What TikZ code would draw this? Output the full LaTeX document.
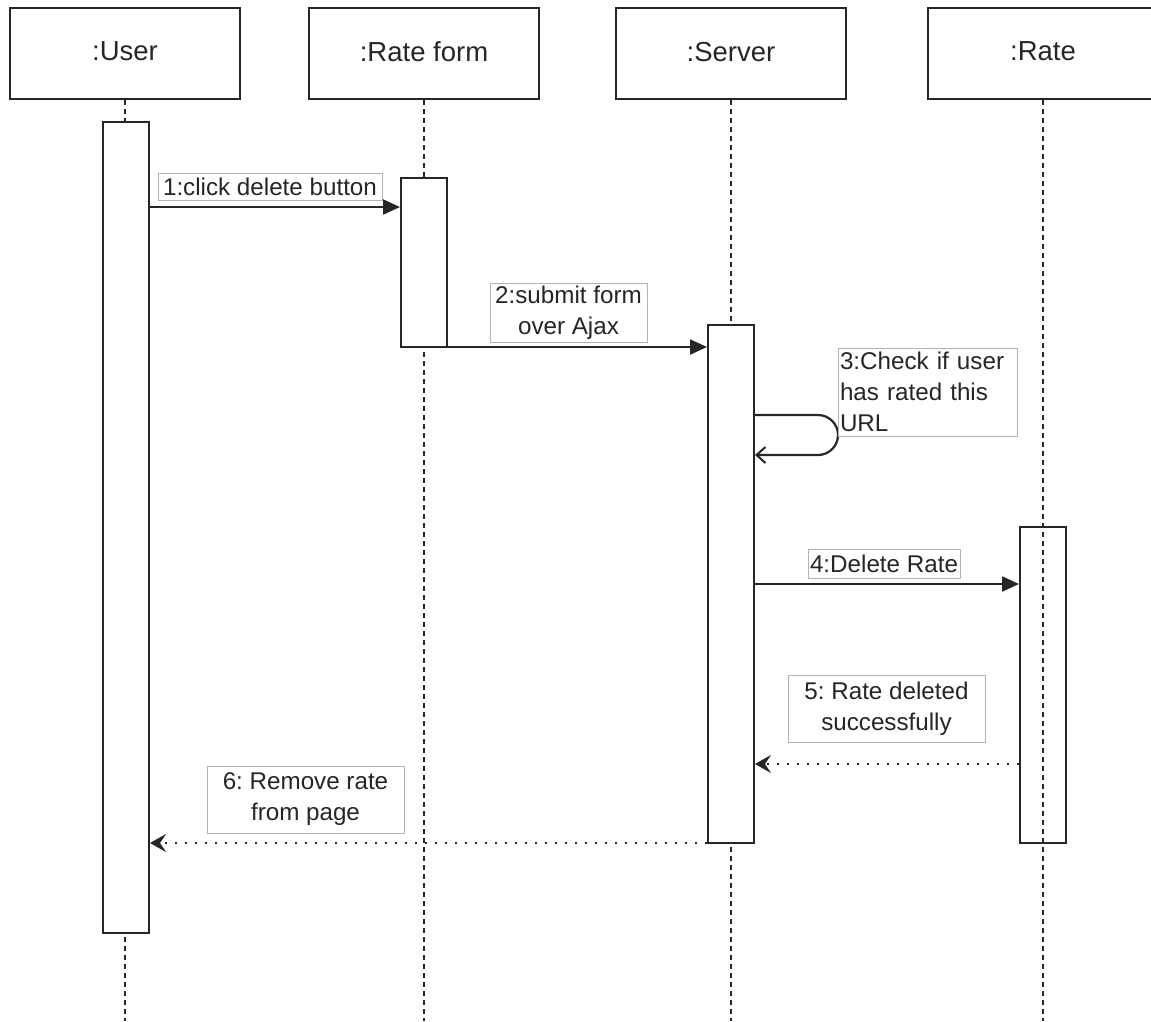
\documentclass[tikz,border=0pt]{standalone}
\usepackage{fontspec}
\setmainfont{Liberation Sans}
\usetikzlibrary{arrows.meta}
\frenchspacing
\begin{document}
\begin{tikzpicture}[x=1pt,y=-1pt,
  txt/.style={text=black!85},
  header/.style={draw=black!85,line width=2pt,fill=white,minimum width=230pt,minimum height=91pt,
    inner sep=0pt,txt,font=\fontsize{27.5}{32}\selectfont},
  actbox/.style={draw=black!85,line width=2pt,minimum width=46pt,inner sep=0pt},
  lifeline/.style={draw=black!85,line width=1.6pt,dash pattern=on 5pt off 4pt},
  msg/.style={draw=black!85,line width=2.2pt,-{Triangle[length=17pt,width=15pt]}},
  ret/.style={draw=black!85,line width=2.2pt,dash pattern=on 2pt off 8pt,
    -{Stealth[length=16pt,width=18pt,inset=6pt]}},
  selfmsg/.style={draw=black!85,line width=2.2pt,rounded corners=20pt,
    -{Straight Barb[length=9pt,width=16pt,line width=2pt]}},
  lbl/.style={draw=black!30,line width=0.8pt,fill=white,inner sep=2pt,txt,
    font=\fontsize{24.2}{31}\selectfont}
]
\useasboundingbox (0,0) rectangle (1151,1021);
\clip (0,0) rectangle (1151,1021);
\fill[white] (0,0) rectangle (1151,1021);

% participants
\node[header] (user)  at (125,53.5)  {\raisebox{4pt}{:User}};
\node[header] (form)  at (424,53.5)  {\raisebox{4pt}{:Rate form}};
\node[header] (srv)   at (731,53.5)  {\raisebox{4pt}{:Server}};
\node[header] (rate)  at (1043,53.5) {\raisebox{4pt}{:Rate}};

% lifelines
\coordinate (bot) at (0,1021);
\foreach \p in {user,form,srv,rate}
  \draw[lifeline] (\p.south) -- (\p.south |- bot);

% activation bars
\node[actbox,fill=white,minimum height=811pt] (ua) at (126,527.5) {};
\node[actbox,fill=white,minimum height=169pt] (fa) at (424,262.5) {};
\node[actbox,fill=white,minimum height=518pt] (sa) at (731,584) {};
\node[actbox,minimum height=316pt] (ra) at (1043,685) {};

% message rows
\coordinate (m1) at (0,207);
\coordinate (m2) at (0,347);
\coordinate (m3a) at (0,415);
\coordinate (m3b) at (0,455);
\coordinate (m4) at (0,584);
\coordinate (m5) at (0,764);
\coordinate (m6) at (0,843);
\coordinate (loop) at (838,0);

\draw[msg] (ua.east |- m1) -- (fa.west |- m1);
\draw[msg] (fa.east |- m2) -- (sa.west |- m2);
\draw[selfmsg] (sa.east |- m3a) -- (loop |- m3a) -- (loop |- m3b) -- (sa.east |- m3b);
\draw[msg] (sa.east |- m4) -- (ra.west |- m4);
\draw[ret] (ra.west |- m5) -- (sa.east |- m5);
\draw[ret] (sa.west |- m6) -- (ua.east |- m6);

% message labels
\node[lbl,minimum width=224pt,minimum height=27pt] (l1) at (270,186.5)
  {1:click delete button};
\node[lbl,minimum width=157pt,minimum height=59pt,align=center] (l2) at (568.5,312.5)
  {2:submit form\\over Ajax};
\node[lbl,minimum width=179pt,minimum height=88pt,text width=175pt,align=left] (l3) at (927.5,392)
  {3:Check if user\\has rated this\\URL};
\node[lbl,minimum width=152pt,minimum height=29pt] (l4) at (884,563.5)
  {4:Delete Rate};
\node[lbl,minimum width=197pt,minimum height=67pt,align=center] (l5) at (886.5,708.5)
  {5: Rate deleted\\successfully};
\node[lbl,minimum width=197pt,minimum height=67pt,align=center] (l6) at (305.5,799.5)
  {6: Remove rate\\from page};
\end{tikzpicture}
\end{document}
